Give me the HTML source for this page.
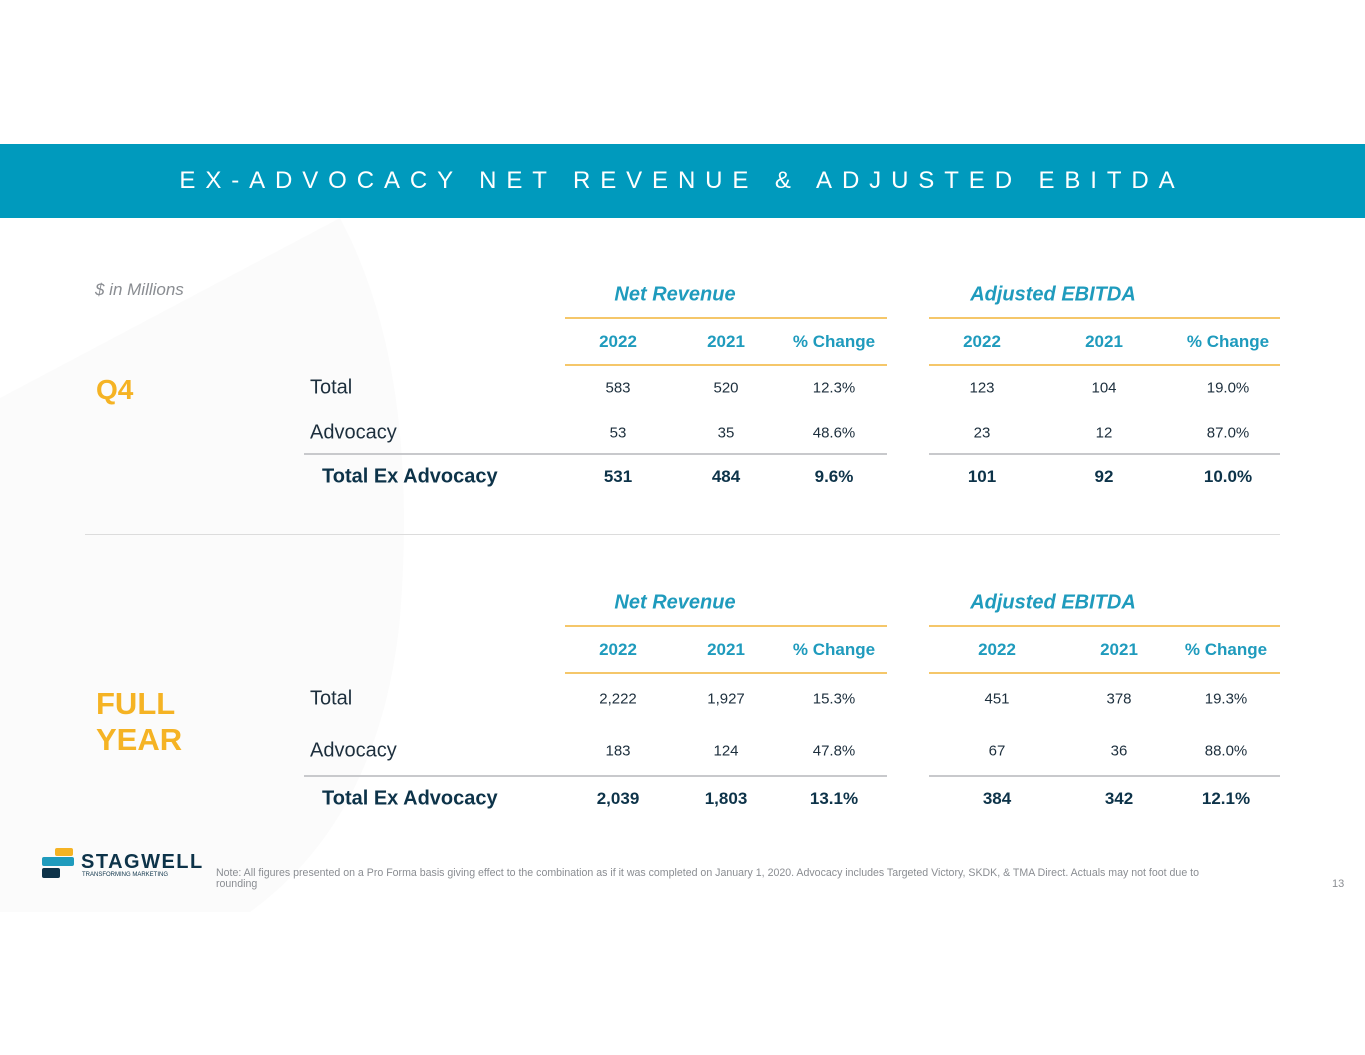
<!DOCTYPE html>
<html><head><meta charset="utf-8"><style>
body{margin:0;width:1365px;height:1055px;background:#fff;position:relative;overflow:hidden;font-family:"Liberation Sans",sans-serif;color:#0d3349}
.a{position:absolute;white-space:nowrap}
.c{position:absolute;white-space:nowrap;transform:translate(-50%,-50%)}
.l{position:absolute;white-space:nowrap;transform:translateY(-50%)}
.h{color:#1f9bbd;font-weight:bold;font-size:17px}
.t{color:#1f9bbd;font-weight:bold;font-style:italic;font-size:20px}
.n{font-size:15px;color:#1d2f3d}
.b{font-size:17px;font-weight:bold;color:#0d3349}
.lab{font-size:20px;color:#1d2f3d}
.y{position:absolute;height:2px;background:#f5c76a}
.g{position:absolute;height:2px;background:#c8c9cc}
</style></head><body>
<svg class="a" style="left:0;top:218px" width="420" height="694"><path d="M0 180 L340 0 Q420 150 400 400 Q380 600 250 694 L0 694 Z" fill="#fbfbfb"/></svg>
<div class="a" style="left:0;top:144px;width:1365px;height:74px;background:#009abd"></div>
<div class="c" style="left:682px;top:181px;color:#fff;font-size:24px;letter-spacing:9.9px">EX-ADVOCACY NET REVENUE &amp; ADJUSTED EBITDA</div>
<div class="l" style="left:95px;top:290px;font-style:italic;color:#8a8d92;font-size:17px">$ in Millions</div>
<div class="l" style="left:96px;top:390px;color:#f5b324;font-weight:bold;font-size:28px">Q4</div>
<div class="a" style="left:96px;top:686px;color:#f5b324;font-weight:bold;font-size:31px;line-height:36px">FULL<br>YEAR</div>

<!-- Q4 -->
<div class="c t" style="left:675px;top:295px">Net Revenue</div>
<div class="c t" style="left:1053px;top:295px">Adjusted EBITDA</div>
<div class="y" style="left:565px;top:317px;width:322px"></div><div class="y" style="left:929px;top:317px;width:351px"></div>
<div class="y" style="left:565px;top:364px;width:322px"></div><div class="y" style="left:929px;top:364px;width:351px"></div>
<div class="c h" style="left:618px;top:342px">2022</div><div class="c h" style="left:726px;top:342px">2021</div><div class="c h" style="left:834px;top:342px">% Change</div>
<div class="c h" style="left:982px;top:342px">2022</div><div class="c h" style="left:1104px;top:342px">2021</div><div class="c h" style="left:1228px;top:342px">% Change</div>
<div class="l lab" style="left:310px;top:388px">Total</div>
<div class="l lab" style="left:310px;top:433px">Advocacy</div>
<div class="l" style="left:322px;top:477px;font-size:20px;font-weight:bold">Total Ex Advocacy</div>
<div class="c n" style="left:618px;top:388px">583</div><div class="c n" style="left:726px;top:388px">520</div><div class="c n" style="left:834px;top:388px">12.3%</div>
<div class="c n" style="left:982px;top:388px">123</div><div class="c n" style="left:1104px;top:388px">104</div><div class="c n" style="left:1228px;top:388px">19.0%</div>
<div class="c n" style="left:618px;top:433px">53</div><div class="c n" style="left:726px;top:433px">35</div><div class="c n" style="left:834px;top:433px">48.6%</div>
<div class="c n" style="left:982px;top:433px">23</div><div class="c n" style="left:1104px;top:433px">12</div><div class="c n" style="left:1228px;top:433px">87.0%</div>
<div class="g" style="left:304px;top:453px;width:583px"></div><div class="g" style="left:929px;top:453px;width:351px"></div>
<div class="c b" style="left:618px;top:477px">531</div><div class="c b" style="left:726px;top:477px">484</div><div class="c b" style="left:834px;top:477px">9.6%</div>
<div class="c b" style="left:982px;top:477px">101</div><div class="c b" style="left:1104px;top:477px">92</div><div class="c b" style="left:1228px;top:477px">10.0%</div>

<div class="a" style="left:85px;top:534px;width:1195px;height:1px;background:#dcdcdc"></div>

<!-- FY -->
<div class="c t" style="left:675px;top:603px">Net Revenue</div>
<div class="c t" style="left:1053px;top:603px">Adjusted EBITDA</div>
<div class="y" style="left:565px;top:625px;width:322px"></div><div class="y" style="left:929px;top:625px;width:351px"></div>
<div class="y" style="left:565px;top:672px;width:322px"></div><div class="y" style="left:929px;top:672px;width:351px"></div>
<div class="c h" style="left:618px;top:650px">2022</div><div class="c h" style="left:726px;top:650px">2021</div><div class="c h" style="left:834px;top:650px">% Change</div>
<div class="c h" style="left:997px;top:650px">2022</div><div class="c h" style="left:1119px;top:650px">2021</div><div class="c h" style="left:1226px;top:650px">% Change</div>
<div class="l lab" style="left:310px;top:699px">Total</div>
<div class="l lab" style="left:310px;top:751px">Advocacy</div>
<div class="l" style="left:322px;top:799px;font-size:20px;font-weight:bold">Total Ex Advocacy</div>
<div class="c n" style="left:618px;top:699px">2,222</div><div class="c n" style="left:726px;top:699px">1,927</div><div class="c n" style="left:834px;top:699px">15.3%</div>
<div class="c n" style="left:997px;top:699px">451</div><div class="c n" style="left:1119px;top:699px">378</div><div class="c n" style="left:1226px;top:699px">19.3%</div>
<div class="c n" style="left:618px;top:751px">183</div><div class="c n" style="left:726px;top:751px">124</div><div class="c n" style="left:834px;top:751px">47.8%</div>
<div class="c n" style="left:997px;top:751px">67</div><div class="c n" style="left:1119px;top:751px">36</div><div class="c n" style="left:1226px;top:751px">88.0%</div>
<div class="g" style="left:304px;top:775px;width:583px"></div><div class="g" style="left:929px;top:775px;width:351px"></div>
<div class="c b" style="left:618px;top:799px">2,039</div><div class="c b" style="left:726px;top:799px">1,803</div><div class="c b" style="left:834px;top:799px">13.1%</div>
<div class="c b" style="left:997px;top:799px">384</div><div class="c b" style="left:1119px;top:799px">342</div><div class="c b" style="left:1226px;top:799px">12.1%</div>

<!-- logo -->
<div class="a" style="left:55px;top:848px;width:18px;height:8px;background:#f5b324;border-radius:2px"></div>
<div class="a" style="left:42px;top:857px;width:32px;height:9px;background:#1f9bbd;border-radius:2px"></div>
<div class="a" style="left:42px;top:868px;width:18px;height:10px;background:#0d3349;border-radius:2px"></div>
<div class="a" style="left:81px;top:851px;font-size:20px;font-weight:bold;letter-spacing:1.5px;color:#0d3349">STAGWELL</div>
<div class="a" style="left:82px;top:872px;font-size:6px;color:#0d3349">TRANSFORMING MARKETING</div>
<div class="a" style="left:216px;top:868px;font-size:10.6px;color:#8a8d92;width:1000px;white-space:normal;line-height:11px">Note: All figures presented on a Pro Forma basis giving effect to the combination as if it was completed on January 1, 2020. Advocacy includes Targeted Victory, SKDK, &amp; TMA Direct. Actuals may not foot due to rounding</div>
<div class="a" style="left:1332px;top:878px;font-size:11px;color:#8a8d92">13</div>
</body></html>
